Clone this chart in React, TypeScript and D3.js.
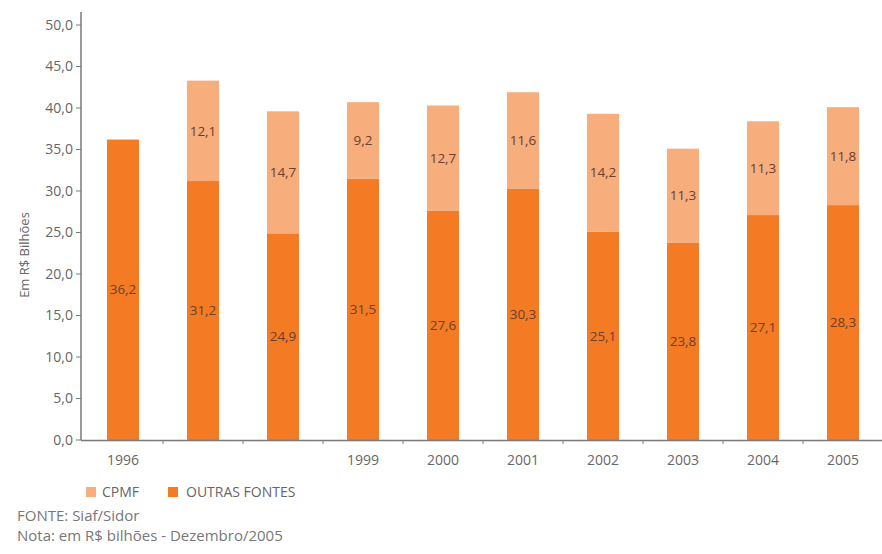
import React from "react";
import * as d3 from "d3";

const categories = ["1996", "1997", "1998", "1999", "2000", "2001", "2002", "2003", "2004", "2005"];
const tickLabels = ["1996", "", "", "1999", "2000", "2001", "2002", "2003", "2004", "2005"];
const outrasFontes = [36.2, 31.2, 24.9, 31.5, 27.6, 30.3, 25.1, 23.8, 27.1, 28.3];
const cpmf = [0, 12.1, 14.7, 9.2, 12.7, 11.6, 14.2, 11.3, 11.3, 11.8];
const yTicks = [0, 5, 10, 15, 20, 25, 30, 35, 40, 45, 50];

const W = 882;
const H = 554;
const DARK = "#F47B24";
const LIGHT = "#F8AD7D";
const FONT = "'Open Sans', 'DejaVu Sans', sans-serif";

export default function App() {
  const x = d3.scaleBand<string>().domain(categories).range([83, 883]).paddingInner(0.6).paddingOuter(0.3);
  const y = d3.scaleLinear().domain([0, 50]).range([440, 25]);
  const fmt = (v: number) => v.toFixed(1).replace(".", ",");
  const step = x.step();
  const boundaries = categories.map((_, i) => 83 + i * step).slice(1);

  return (
    <svg width={W} height={H} style={{ position: "absolute", left: 0, top: 0, background: "#fff" }} fontFamily={FONT}>
      {/* y axis */}
      <line x1={81} x2={81} y1={12} y2={440} stroke="#7a7a7a" strokeWidth={1.5} />
      {yTicks.map((t) => (
        <g key={t}>
          <line x1={76} x2={81} y1={y(t)} y2={y(t)} stroke="#7a7a7a" strokeWidth={1} />
          <text x={73} y={y(t)} dy="0.35em" textAnchor="end" fontSize={14} fill="#666">
            {fmt(t)}
          </text>
        </g>
      ))}
      <text
        transform={`translate(29, 255) rotate(-90)`}
        textAnchor="middle"
        fontSize={13}
        fill="#666"
      >
        Em R$ Bilhões
      </text>
      {/* bars */}
      {categories.map((c, i) => {
        const x0 = x(c) as number;
        const bw = x.bandwidth();
        const o = outrasFontes[i];
        const p = cpmf[i];
        return (
          <g key={c}>
            <rect x={x0} y={y(o)} width={bw} height={y(0) - y(o)} fill={DARK} />
            {p > 0 && <rect x={x0} y={y(o + p)} width={bw} height={y(o) - y(o + p)} fill={LIGHT} />}
            <text x={x0 + bw / 2} y={(y(0) + y(o)) / 2} dy="0.35em" textAnchor="middle" fontSize={13.5} fill="#6a4030">
              {fmt(o)}
            </text>
            {p > 0 && (
              <text x={x0 + bw / 2} y={(y(o) + y(o + p)) / 2} dy="0.35em" textAnchor="middle" fontSize={13.5} fill="#6a4030">
                {fmt(p)}
              </text>
            )}
          </g>
        );
      })}
      {/* x axis */}
      <line x1={81} x2={882} y1={440.5} y2={440.5} stroke="#7a7a7a" strokeWidth={1.5} />
      {boundaries.map((b, i) => (
        <line key={i} x1={b} x2={b} y1={440} y2={444} stroke="#7a7a7a" strokeWidth={1} />
      ))}
      {categories.map((c, i) => (
        <text key={c} x={(x(c) as number) + x.bandwidth() / 2} y={460} dy="0.35em" textAnchor="middle" fontSize={14} fill="#666">
          {tickLabels[i]}
        </text>
      ))}
      {/* legend */}
      <rect x={86} y={487} width={10} height={10} fill={LIGHT} />
      <text x={102} y={492} dy="0.35em" fontSize={14} fill="#666">CPMF</text>
      <rect x={168} y={487} width={10} height={10} fill={DARK} />
      <text x={186} y={492} dy="0.35em" fontSize={14} fill="#666">OUTRAS FONTES</text>
      <text x={17} y={516} dy="0.35em" fontSize={15} fill="#777">FONTE: Siaf/Sidor</text>
      <text x={17} y={536} dy="0.35em" fontSize={15} fill="#777">Nota: em R$ bilhões - Dezembro/2005</text>
    </svg>
  );
}
